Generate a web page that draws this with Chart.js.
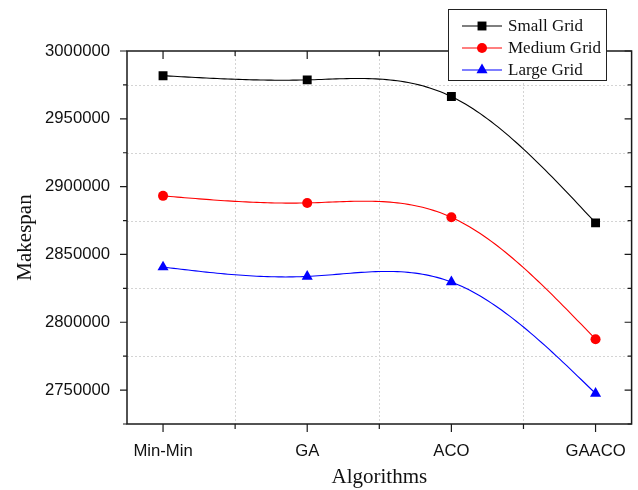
<!DOCTYPE html>
<html>
<head>
<meta charset="utf-8">
<script src="https://cdn.jsdelivr.net/npm/chart.js@4.4.0/dist/chart.umd.min.js"></script>
<style>
html, body { margin: 0; padding: 0; background: #fff; }
</style>
</head>
<body>
<canvas id="makespanChart" width="638" height="490"></canvas>
<script>
// data
const algorithms = ["Min-Min", "GA", "ACO", "GAACO"];
const smallGrid = [2981800, 2978700, 2966400, 2873300];
const mediumGrid = [2893200, 2888000, 2877400, 2787500];
const largeGrid = [2840700, 2833800, 2829700, 2747500];
const seriesNames = ["Small Grid", "Medium Grid", "Large Grid"];
const xTickValues = [1, 1.5, 2, 2.5, 3, 3.5, 4];
const yMin = 2725000, yMax = 3000000, yMinorStep = 25000, yMajorStep = 50000;

const seriesColors = ["#000000", "#ff0000", "#0000ff"];
const seriesShapes = ["rect", "circle", "triangle"];
const seriesRadius = [6.3, 5, 6.4];

const toPoints = arr => arr.map((v, i) => ({ x: i + 1, y: v }));

let datasets = [smallGrid, mediumGrid, largeGrid].map((arr, i) => ({
  label: seriesNames[i],
  data: toPoints(arr),
  showLine: false,
  borderColor: seriesColors[i],
  backgroundColor: seriesColors[i],
  pointStyle: seriesShapes[i],
  pointRadius: seriesRadius[i],
  pointBorderWidth: 0
}));

// natural cubic spline, like the original plotting tool
function naturalSpline(xs, ys) {
  let n = xs.length - 1;
  let h = [], alpha = [], l = [], mu = [], z = [], b = [], c = [], d = [];
  for (let i = 0; i < n; i++) h[i] = xs[i + 1] - xs[i];
  for (let i = 1; i < n; i++)
    alpha[i] = 3 / h[i] * (ys[i + 1] - ys[i]) - 3 / h[i - 1] * (ys[i] - ys[i - 1]);
  l[0] = 1; mu[0] = 0; z[0] = 0;
  for (let i = 1; i < n; i++) {
    l[i] = 2 * (xs[i + 1] - xs[i - 1]) - h[i - 1] * mu[i - 1];
    mu[i] = h[i] / l[i];
    z[i] = (alpha[i] - h[i - 1] * z[i - 1]) / l[i];
  }
  c[n] = 0;
  for (let j = n - 1; j >= 0; j--) {
    c[j] = z[j] - mu[j] * c[j + 1];
    b[j] = (ys[j + 1] - ys[j]) / h[j] - h[j] * (c[j + 1] + 2 * c[j]) / 3;
    d[j] = (c[j + 1] - c[j]) / (3 * h[j]);
  }
  return { n, b, c, d };
}

const splinePlugin = {
  id: "splineLines",
  beforeDatasetsDraw(chart) {
    const ctx = chart.ctx;
    const { left, right, top, bottom } = chart.chartArea;
    const xs = chart.scales.x, ys = chart.scales.y;

    ctx.save();
    // dashed grid at the minor positions
    ctx.strokeStyle = "#d4d4d4";
    ctx.lineWidth = 1;
    ctx.setLineDash([2, 2]);
    xTickValues.forEach(v => {
      if (Number.isInteger(v)) return;
      let px = Math.round(xs.getPixelForValue(v)) + 0.5;
      ctx.beginPath(); ctx.moveTo(px, top); ctx.lineTo(px, bottom); ctx.stroke();
    });
    for (let v = yMin + yMinorStep; v < yMax; v += yMinorStep) {
      if (v % yMajorStep === 0) continue;
      let py = Math.round(ys.getPixelForValue(v)) + 0.5;
      ctx.beginPath(); ctx.moveTo(left, py); ctx.lineTo(right, py); ctx.stroke();
    }
    ctx.setLineDash([]);

    chart.data.datasets.forEach((ds, i) => {
      let pts = chart.getDatasetMeta(i).data;
      let px = pts.map(p => p.x), py = pts.map(p => p.y);
      let s = naturalSpline(px, py);
      ctx.strokeStyle = ds.borderColor;
      ctx.lineWidth = 1.1;
      ctx.beginPath();
      ctx.moveTo(px[0], py[0]);
      for (let j = 0; j < s.n; j++) {
        for (let k = 1; k <= 40; k++) {
          let dx = (px[j + 1] - px[j]) * k / 40;
          ctx.lineTo(px[j] + dx, py[j] + s.b[j] * dx + s.c[j] * dx * dx + s.d[j] * dx * dx * dx);
        }
      }
      ctx.stroke();
    });
    ctx.restore();
  },
  afterDatasetsDraw(chart) {
    const ctx = chart.ctx;
    const { left, right, top, bottom } = chart.chartArea;
    const xs = chart.scales.x, ys = chart.scales.y;

    ctx.save();
    ctx.strokeStyle = "#1a1a1a";
    ctx.lineWidth = 1.5;
    ctx.strokeRect(left, top, right - left, bottom - top);

    ctx.lineWidth = 1.2;
    ctx.beginPath();
    // x ticks: out at bottom, in at top
    xTickValues.forEach(v => {
      let px = xs.getPixelForValue(v);
      let len = Number.isInteger(v) ? 8 : 5;
      ctx.moveTo(px, bottom); ctx.lineTo(px, bottom + len);
      ctx.moveTo(px, top); ctx.lineTo(px, top + len);
    });
    // y ticks: out at left, in at right
    for (let v = yMin; v <= yMax; v += yMinorStep) {
      let py = ys.getPixelForValue(v);
      let len = v % yMajorStep === 0 ? 7 : 4;
      ctx.moveTo(left, py); ctx.lineTo(left - len, py);
      ctx.moveTo(right, py); ctx.lineTo(right - len, py);
    }
    ctx.stroke();

    // legend box
    let bx = 448.5, by = 9.5, bw = 158, bh = 71;
    ctx.fillStyle = "#fff";
    ctx.fillRect(bx, by, bw, bh);
    ctx.strokeStyle = "#222";
    ctx.lineWidth = 1;
    ctx.strokeRect(bx, by, bw, bh);
    ctx.font = "17px 'Liberation Serif', 'Times New Roman', serif";
    ctx.textBaseline = "middle";
    chart.data.datasets.forEach((ds, i) => {
      let ly = 26 + i * 22;
      ctx.strokeStyle = ds.borderColor;
      ctx.lineWidth = 1.1;
      ctx.beginPath(); ctx.moveTo(462, ly); ctx.lineTo(502, ly); ctx.stroke();
      ctx.fillStyle = ds.backgroundColor;
      Chart.helpers.drawPoint(ctx, { pointStyle: ds.pointStyle, radius: ds.pointRadius, rotation: 0, borderWidth: 0 }, 482, ly);
      ctx.fillStyle = "#111";
      ctx.fillText(ds.label, 508, ly + 1);
    });
    ctx.restore();
  }
};

new Chart(document.getElementById("makespanChart"), {
  type: "scatter",
  data: { datasets: datasets },
  options: {
    responsive: false,
    animation: false,
    devicePixelRatio: 1,
    layout: { padding: { top: 51, right: 6, left: 0, bottom: 0 } },
    plugins: { legend: { display: false }, tooltip: { enabled: false } },
    scales: {
      x: {
        type: "linear",
        min: 0.75,
        max: 4.25,
        afterBuildTicks: s => { s.ticks = xTickValues.map(v => ({ value: v })); },
        afterFit: s => { s.height = 66; },
        // tick marks drawn by the plugin; invisible ticks only push labels down
        grid: { display: true, drawOnChartArea: false, drawTicks: true, tickLength: 14, tickColor: "rgba(0,0,0,0)" },
        border: { display: false },
        ticks: {
          autoSkip: false, maxRotation: 0, padding: 3, color: "#111",
          font: { family: "'Liberation Sans', Arial, sans-serif", size: 16.7 },
          callback: v => Number.isInteger(v) ? algorithms[v - 1] : ""
        },
        title: {
          display: true, text: "Algorithms", color: "#111",
          font: { family: "'Liberation Serif', 'Times New Roman', serif", size: 21 },
          padding: { top: 0, bottom: 0 }
        }
      },
      y: {
        min: yMin,
        max: yMax,
        afterFit: s => { s.width = 127; },
        grid: { display: true, drawOnChartArea: false, drawTicks: false },
        border: { display: false },
        ticks: {
          stepSize: yMinorStep, autoSkip: false, padding: 17, color: "#111",
          font: { family: "'Liberation Sans', Arial, sans-serif", size: 16.7 },
          callback: v => v % yMajorStep === 0 ? String(v) : ""
        },
        title: {
          display: true, text: "Makespan", color: "#111",
          font: { family: "'Liberation Serif', 'Times New Roman', serif", size: 21 },
          padding: { top: 13, bottom: 0 }
        }
      }
    }
  },
  plugins: [splinePlugin]
});
</script>
</body>
</html>
